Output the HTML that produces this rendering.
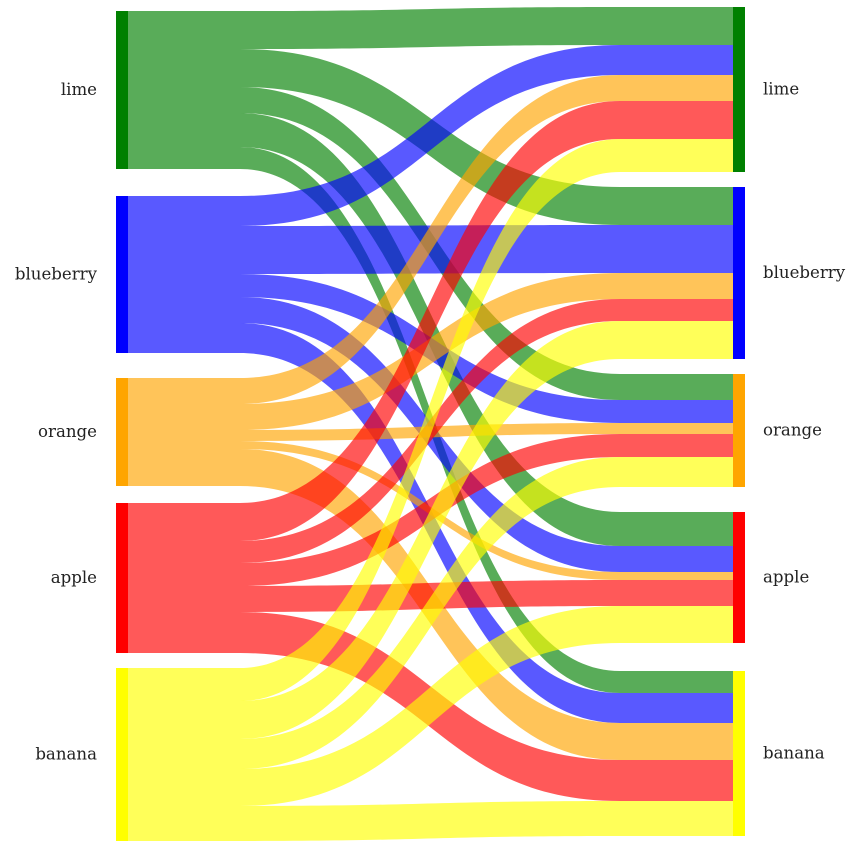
<!DOCTYPE html>
<html><head><meta charset="utf-8">
<style>
html,body{margin:0;padding:0;background:#fff;}
svg text{font-family:"DejaVu Serif","Liberation Serif",serif;font-size:16.6px;fill:#222;}
</style></head>
<body>
<svg id="chart" width="859" height="848" xmlns="http://www.w3.org/2000/svg"></svg>
<script>
const categories = ["lime","blueberry","orange","apple","banana"];
const nodeColors = ["#008000","#0000ff","#ffa500","#ff0000","#ffff00"];
// flow values: rows = source, cols = target
const flowLime = [38,38,26,34,22];
const flowBlueberry = [30,48,23,26,30];
const flowOrange = [26,26,11,8,37];
const flowApple = [38,22,23,26,41];
const flowBanana = [33,38,30,37,35];
const flows = [flowLime, flowBlueberry, flowOrange, flowApple, flowBanana];

// layout
const leftGaps = [27,25,17,15];
const rightGaps = [15,15,25,28];
const leftStart = 11, rightStart = 7;
const xL0 = 116, xL1 = 128, xR0 = 733, xR1 = 745;
const svg = document.getElementById('chart');
const NS = "http://www.w3.org/2000/svg";
const n = categories.length;
const srcTot = flows.map(r => r.reduce((a,b)=>a+b,0));
const tgtTot = categories.map((_,j)=>flows.reduce((a,r)=>a+r[j],0));
const leftTop = [], rightTop = [];
let y = leftStart;
for (let i=0;i<n;i++){ leftTop.push(y); y += srcTot[i] + (leftGaps[i]||0); }
y = rightStart;
for (let j=0;j<n;j++){ rightTop.push(y); y += tgtTot[j] + (rightGaps[j]||0); }

const srcOff = leftTop.slice(), tgtOff = rightTop.slice();
const linkY = [];
for (let i=0;i<n;i++){ linkY.push([]); for (let j=0;j<n;j++){ linkY[i].push([srcOff[i], tgtOff[j]]); srcOff[i]+=flows[i][j]; tgtOff[j]+=flows[i][j]; } }

const gLinks = document.createElementNS(NS,'g');


svg.appendChild(gLinks);
const a = 240, b = 620, m = 430;
for (let i=0;i<n;i++){
  for (let j=0;j<n;j++){
    const v = flows[i][j];
    const [s0,t0] = linkY[i][j];
    const s1 = s0+v, t1 = t0+v;
    const d = `M${xL1},${s0} L${a},${s0} C${m},${s0} ${m},${t0} ${b},${t0} L${xR0},${t0} L${xR0},${t1} L${b},${t1} C${m},${t1} ${m},${s1} ${a},${s1} L${xL1},${s1} Z`;
    const p = document.createElementNS(NS,'path');
    p.setAttribute('d', d);
    p.setAttribute('fill', nodeColors[i]);
    p.setAttribute('fill-opacity', '0.65');
    
    
    gLinks.appendChild(p);
  }
}
for (let i=0;i<n;i++){
  const r = document.createElementNS(NS,'rect');
  r.setAttribute('x', xL0); r.setAttribute('y', leftTop[i]);
  r.setAttribute('width', xL1-xL0); r.setAttribute('height', srcTot[i]);
  r.setAttribute('fill', nodeColors[i]);
  
  
  svg.appendChild(r);
  const t = document.createElementNS(NS,'text');
  t.setAttribute('x', 97); t.setAttribute('y', leftTop[i]+srcTot[i]/2+5);
  t.setAttribute('text-anchor','end');
  t.textContent = categories[i];
  
  
  svg.appendChild(t);

  const r2 = document.createElementNS(NS,'rect');
  r2.setAttribute('x', xR0); r2.setAttribute('y', rightTop[i]);
  r2.setAttribute('width', xR1-xR0); r2.setAttribute('height', tgtTot[i]);
  r2.setAttribute('fill', nodeColors[i]);
  
  
  svg.appendChild(r2);
  const t2 = document.createElementNS(NS,'text');
  t2.setAttribute('x', 763); t2.setAttribute('y', rightTop[i]+tgtTot[i]/2+5);
  t2.textContent = categories[i];
  
  
  svg.appendChild(t2);
}
</script>
</body></html>
